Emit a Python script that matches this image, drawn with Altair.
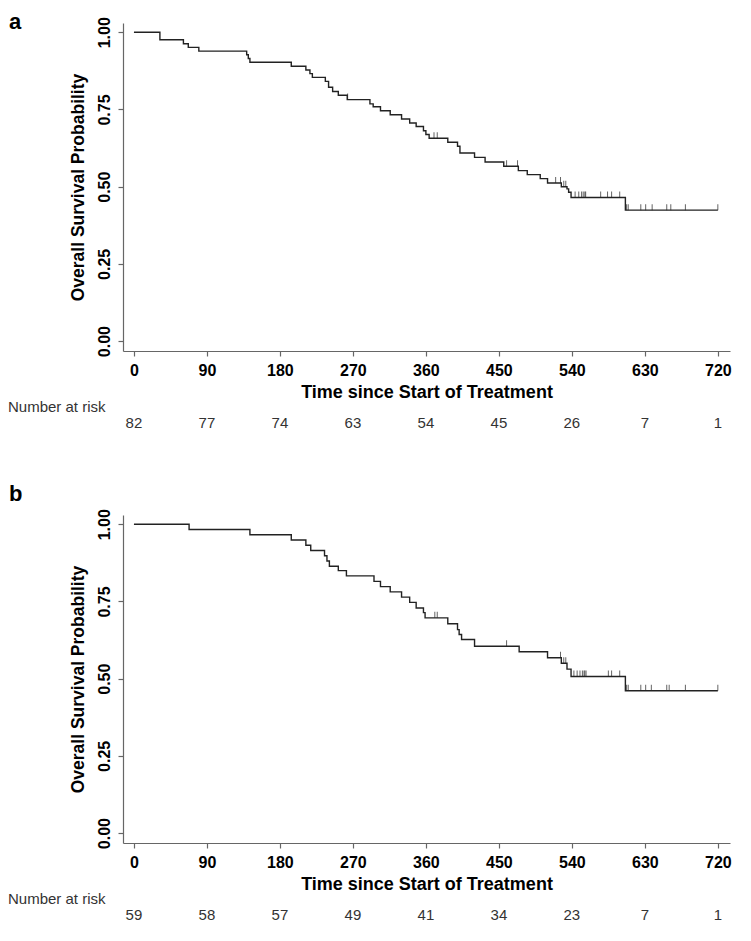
import altair as alt
import pandas as pd

FONT = "Liberation Sans"

# ---------- data ----------
tick_days = [0, 90, 180, 270, 360, 450, 540, 630, 720]
y_ticks = [0, 0.25, 0.5, 0.75, 1.0]

# Panel a: event times (days) and survival after each step
a_times = [0, 32, 61, 67, 80, 139, 141, 143, 194, 212, 217, 220, 236, 240, 245, 252,
           263, 291, 295, 304, 316, 330, 340, 348, 357, 360, 364, 387, 399, 402, 420,
           433, 456, 474, 485, 501, 510, 527, 534, 536, 539, 606]
a_surv = [1.0, 0.976, 0.963, 0.951, 0.939, 0.927, 0.915, 0.903, 0.890, 0.878, 0.866,
          0.854, 0.841, 0.822, 0.808, 0.796, 0.782, 0.768, 0.759, 0.746, 0.733, 0.719,
          0.706, 0.695, 0.681, 0.669, 0.657, 0.644, 0.631, 0.609, 0.595, 0.580, 0.566,
          0.552, 0.539, 0.526, 0.512, 0.500, 0.493, 0.482, 0.465, 0.424]
a_censor = [263.5, 370, 374, 459.5, 473, 520, 526, 530, 532.5, 544, 548.5, 552, 554,
            556, 557, 575.5, 584, 589, 599, 607.5, 609.5, 625, 631, 639, 657, 662, 680, 720]
a_risk = [82, 77, 74, 63, 54, 45, 26, 7, 1]

# Panel b
b_times = [0, 68, 143, 194, 212, 218, 235, 238, 241, 252, 262, 296, 304, 316, 330, 340,
           348, 357, 359, 387, 399, 401, 404, 420, 475, 510, 527, 534, 539, 606]
b_surv = [1.0, 0.983, 0.966, 0.949, 0.932, 0.915, 0.898, 0.881, 0.864, 0.850, 0.833,
          0.815, 0.798, 0.781, 0.764, 0.747, 0.729, 0.714, 0.697, 0.678, 0.659, 0.643,
          0.627, 0.605, 0.587, 0.568, 0.550, 0.531, 0.507, 0.461]
b_censor = [371, 374, 459.5, 526, 530, 532.5, 542.5, 546.5, 550, 553, 555, 556, 557.5,
            585, 589, 599, 607.5, 609.5, 625, 631, 638, 657, 660, 680, 720]
b_risk = [59, 58, 57, 49, 41, 34, 23, 7, 1]

W, H = 607, 328
XDOM = [-13.5, 735]
YDOM = [-0.032, 1.03]


def step_value(times, surv, t):
    v = surv[0]
    for tt, s in zip(times, surv):
        if tt <= t:
            v = s
    return v


def panel(letter, letter_y, times, surv, censor, risk):
    curve = pd.DataFrame({"t": times + [720], "s": surv + [surv[-1]]})
    cens = pd.DataFrame({"t": censor, "s": [step_value(times, surv, c) for c in censor]})
    risk_df = pd.DataFrame({"t": tick_days, "n": [str(r) for r in risk]})

    xs = alt.Scale(domain=XDOM, nice=False, zero=False)
    ys = alt.Scale(domain=YDOM, nice=False, zero=False)
    xaxis = alt.Axis(values=tick_days, title="Time since Start of Treatment",
                     labelPadding=6, titlePadding=5, labelFlush=False)
    yaxis = alt.Axis(values=y_ticks, format=".2f", labelAngle=270, labelAlign="center",
                     labelBaseline="bottom", labelPadding=6,
                     title="Overall Survival Probability", titlePadding=9, labelFlush=False)
    X = alt.X("t:Q", scale=xs, axis=xaxis)
    Y = alt.Y("s:Q", scale=ys, axis=yaxis)

    line = alt.Chart(curve).mark_line(interpolate="step-after", color="#222",
                                      strokeWidth=1.4).encode(x=X, y=Y)
    ticks = alt.Chart(cens).mark_tick(orient="vertical", size=6, thickness=1,
                                      yOffset=-3, color="#222").encode(x=X, y=Y)
    risk_text = alt.Chart(risk_df).mark_text(font=FONT, fontSize=15, baseline="middle",
                                             color="#333").encode(
        x=X, y=alt.value(H + 72), text="n:N")
    lab = alt.Chart(pd.DataFrame({"l": ["Number at risk"]})).mark_text(
        font=FONT, fontSize=15, align="left", baseline="middle", color="#333").encode(
        x=alt.value(-115), y=alt.value(H + 56), text="l:N")
    let = alt.Chart(pd.DataFrame({"l": [letter]})).mark_text(
        font=FONT, fontSize=22, fontWeight="bold", align="left", baseline="alphabetic",
        color="#000").encode(x=alt.value(-114), y=alt.value(letter_y), text="l:N")
    return alt.layer(line, ticks, risk_text, lab, let).properties(width=W, height=H)


chart = alt.vconcat(
    panel("a", 6, a_times, a_surv, a_censor, a_risk),
    panel("b", -14, b_times, b_surv, b_censor, b_risk),
    spacing=52,
).properties(padding={"top": 3, "left": 0, "right": 0, "bottom": 0}).configure_view(
    stroke=None
).configure_axis(
    grid=False, domainColor="#666", tickColor="#666", domainWidth=1.2, tickWidth=1.2,
    tickSize=5, labelColor="#000", titleColor="#000", labelFont=FONT, titleFont=FONT,
    labelFontWeight="bold", titleFontWeight="bold", labelFontSize=16,
).configure_axisX(titleFontSize=18).configure_axisY(titleFontSize=17.5)

chart.save("out.html", embed_options={"renderer": "svg", "actions": False})
